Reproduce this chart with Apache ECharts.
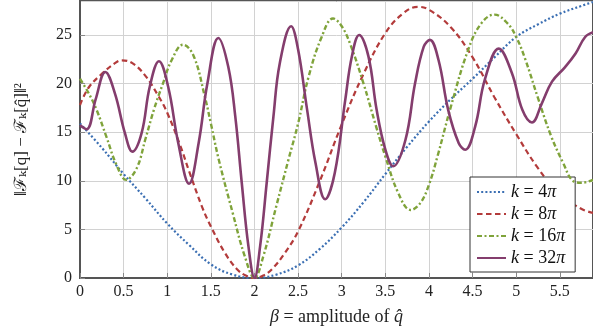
<!DOCTYPE html>
<html>
<head>
<meta charset="utf-8">
<script src="https://cdn.jsdelivr.net/npm/echarts@6/dist/echarts.min.js"></script>
<style>
html,body{margin:0;padding:0;background:#fff;}
#chart{width:593px;height:334px;}
</style>
</head>
<body>
<div id="chart"></div>
<script>
// ---- data ----
const xTicks = [0, 0.5, 1, 1.5, 2, 2.5, 3, 3.5, 4, 4.5, 5, 5.5];
const yTicks = [0, 5, 10, 15, 20, 25];
const seriesNames = ['k = 4π', 'k = 8π', 'k = 16π', 'k = 32π'];

const beta4 = [0, 0.25, 0.5, 0.75, 1.0, 1.25, 1.5, 1.75, 2.0, 2.25, 2.5, 2.75, 3.0, 3.25, 3.5, 3.75, 4.0, 4.25, 4.5, 4.75, 5.0, 5.25, 5.5, 5.75, 5.88];
const val4  = [15.9, 13.4, 10.7, 8.2, 5.6, 3.4, 1.4, 0.35, 0, 0.35, 1.3, 3.0, 5.2, 7.8, 10.7, 13.5, 16.1, 18.4, 20.5, 22.7, 24.8, 26.1, 27.2, 28.0, 28.4];

const beta8 = [0, 0.1, 0.25, 0.4, 0.48, 0.6, 0.75, 0.9, 1.0, 1.15, 1.25, 1.4, 1.5, 1.66, 1.8, 1.9, 2.0, 2.1, 2.2, 2.35, 2.5, 2.75, 3.0, 3.25, 3.5, 3.7, 3.87, 4.0, 4.25, 4.5, 4.75, 5.0, 5.25, 5.5, 5.75, 5.88];
const val8  = [17.8, 19.6, 21.0, 22.1, 22.4, 22.1, 20.8, 18.7, 17.0, 13.6, 11.0, 7.3, 5.3, 2.6, 0.9, 0.25, 0, 0.25, 0.9, 2.6, 4.8, 10.0, 15.8, 21.0, 25.2, 27.2, 27.9, 27.6, 25.8, 22.7, 18.6, 14.8, 11.3, 8.6, 7.1, 6.7];

const beta16 = [0, 0.1, 0.19, 0.3, 0.42, 0.53, 0.65, 0.75, 0.85, 0.95, 1.05, 1.18, 1.3, 1.43, 1.5, 1.59, 1.75, 1.89, 2.0, 2.1, 2.25, 2.39, 2.5, 2.62, 2.77, 2.9, 3.0, 3.1, 3.25, 3.4, 3.5, 3.65, 3.79, 3.9, 4.0, 4.1, 4.25, 4.45, 4.6, 4.75, 4.9, 5.0, 5.1, 5.25, 5.4, 5.54, 5.65, 5.75, 5.88];
const val16  = [20.5, 19.0, 17.3, 14.6, 11.6, 10.1, 11.3, 14.3, 17.4, 20.0, 22.4, 24.0, 22.9, 18.7, 15.9, 12.2, 6.7, 2.2, 0, 2.2, 7.4, 12.2, 15.9, 20.7, 24.8, 26.7, 25.9, 24.0, 20.0, 15.4, 12.5, 8.7, 7.0, 7.7, 9.6, 12.6, 17.6, 23.5, 26.2, 27.1, 26.2, 24.8, 22.6, 18.5, 14.6, 11.8, 10.0, 9.8, 10.1];

const beta32 = [0, 0.076, 0.18, 0.29, 0.4, 0.515, 0.6, 0.706, 0.8, 0.905, 1.01, 1.126, 1.25, 1.36, 1.46, 1.586, 1.7, 1.78, 1.854, 1.93, 2.0, 2.065, 2.14, 2.217, 2.29, 2.42, 2.5, 2.6, 2.7, 2.81, 2.92, 3.04, 3.116, 3.2, 3.306, 3.4, 3.5, 3.59, 3.73, 3.84, 3.94, 4.01, 4.11, 4.22, 4.34, 4.415, 4.53, 4.64, 4.8, 4.95, 5.07, 5.18, 5.295, 5.41, 5.56, 5.68, 5.79, 5.88];
const val32  = [15.7, 15.3, 18.4, 21.2, 19.0, 14.9, 13.0, 14.9, 19.7, 22.3, 19.7, 13.9, 9.7, 13.9, 20.0, 24.7, 21.7, 16.6, 9.8, 3.3, 0, 3.3, 9.8, 16.6, 22.1, 25.9, 23.5, 17.5, 11.8, 8.1, 10.8, 18.3, 22.8, 25.0, 22.8, 17.3, 13.2, 11.5, 14.2, 20.0, 23.8, 24.5, 22.4, 17.3, 13.9, 13.2, 15.6, 20.4, 23.6, 21.1, 17.3, 16.0, 18.0, 20.2, 21.7, 23.1, 24.8, 25.3];

const colors = ['#3b6fb3', '#b33b3b', '#7fa33a', '#843d6d'];

const pairs = (xs, ys) => xs.map((x, i) => [x, ys[i]]);
const serif = '"Liberation Serif", "DejaVu Serif", serif';

const chart = echarts.init(document.getElementById('chart'), null, {renderer: 'canvas'});

const legendRich = {
  i: {fontFamily: serif, fontStyle: 'italic', fontSize: 18, color: '#111'},
  n: {fontFamily: serif, fontSize: 18, color: '#111'}
};

function legendFmt(name) {
  const num = name.replace('k = ', '').replace('π', '');
  return '{i|k}{n| = ' + num + '}{i|π}';
}

const option = {
  animation: false,
  backgroundColor: '#ffffff',
  grid: {
    left: 80, right: 0, top: 1, bottom: 56,
    show: true, borderColor: '#555', borderWidth: 2, backgroundColor: 'transparent'
  },
  xAxis: {
    type: 'value', min: 0, max: 5.88, interval: 0.5,
    name: '{i|β}{n| = amplitude of }{i|q̂}',
    nameLocation: 'middle', nameGap: 30,
    nameTextStyle: {
      rich: {
        i: {fontFamily: serif, fontStyle: 'italic', fontSize: 18, color: '#222'},
        n: {fontFamily: serif, fontSize: 18, color: '#222'}
      }
    },
    axisLine: {show: true, lineStyle: {color: '#555', width: 2}},
    axisTick: {show: true, inside: true, length: 5, lineStyle: {color: '#888'}},
    axisLabel: {
      fontFamily: serif, fontSize: 16, color: '#222', margin: 6,
      formatter: v => (xTicks.indexOf(Math.round(v * 10) / 10) >= 0 ? String(Math.round(v * 10) / 10) : ''),
      showMaxLabel: false
    },
    splitLine: {show: true, lineStyle: {color: '#d2d2d2', width: 1}}
  },
  yAxis: {
    type: 'value', min: 0, max: 28.5, interval: 5,
    name: '‖ℱₖ[q] − ℱₖ[q̂]‖²',
    nameLocation: 'middle', nameGap: 50, nameRotate: 90,
    nameTextStyle: {fontFamily: serif, fontSize: 17, color: '#222'},
    axisLine: {show: true, lineStyle: {color: '#555', width: 2}},
    axisTick: {show: true, inside: true, length: 5, lineStyle: {color: '#888'}},
    axisLabel: {
      fontFamily: serif, fontSize: 16, color: '#222', margin: 8,
      formatter: v => (yTicks.indexOf(v) >= 0 ? String(v) : ''),
      showMaxLabel: false
    },
    splitLine: {show: true, lineStyle: {color: '#d2d2d2', width: 1}}
  },
  legend: {
    show: true,
    orient: 'vertical',
    left: 470, top: 177,
    padding: [6, 10, 5, 6],
    itemGap: 4,
    itemWidth: 29, itemHeight: 14,
    backgroundColor: '#ffffff',
    borderColor: '#333', borderWidth: 1, borderRadius: 0,
    itemStyle: {opacity: 0},
    data: seriesNames,
    formatter: legendFmt,
    textStyle: {rich: legendRich, fontFamily: serif, fontSize: 18, color: '#111'}
  },
  series: [
    {name: seriesNames[0], type: 'line', data: pairs(beta4, val4), smooth: 0.4, symbol: 'none', color: colors[0],
     lineStyle: {width: 2.2, type: [2, 2.2], color: colors[0]}, z: 2},
    {name: seriesNames[1], type: 'line', data: pairs(beta8, val8), smooth: 0.4, symbol: 'none', color: colors[1],
     lineStyle: {width: 2.2, type: [5.5, 3.5], color: colors[1]}, z: 3},
    {name: seriesNames[2], type: 'line', data: pairs(beta16, val16), smooth: 0.4, symbol: 'none', color: colors[2],
     lineStyle: {width: 2.4, type: [5, 2.5, 2, 2.5], color: colors[2]}, z: 4},
    {name: seriesNames[3], type: 'line', data: pairs(beta32, val32), smooth: 0.4, symbol: 'none', color: colors[3],
     lineStyle: {width: 2.6, type: 'solid', color: colors[3]}, z: 5}
  ]
};

chart.setOption(option);
</script>
</body>
</html>
